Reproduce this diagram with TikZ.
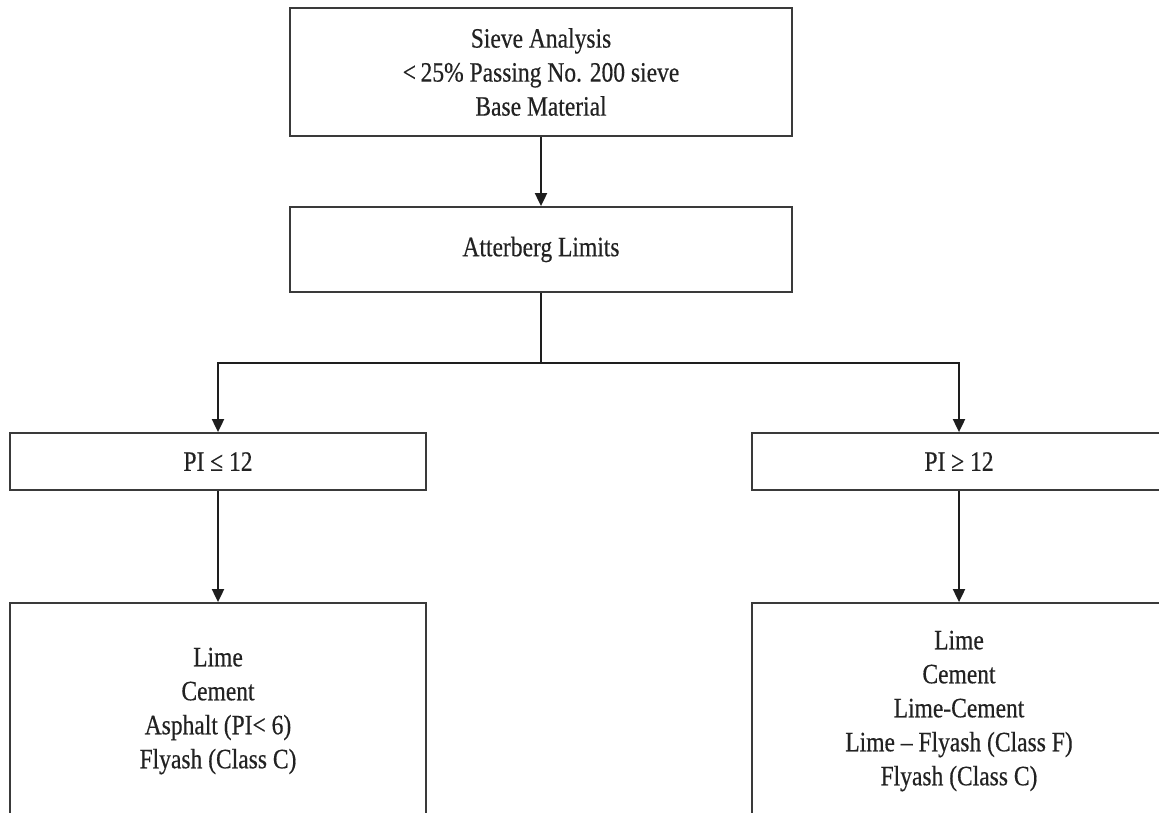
\documentclass[tikz,border=0pt]{standalone}
\usepackage{fontspec}
\setmainfont[FakeStretch=0.84,FakeBold=0.4]{Liberation Serif}
\usetikzlibrary{arrows.meta}
\definecolor{ink}{HTML}{222222}
\definecolor{edge}{HTML}{3A3A3A}
\definecolor{wire}{HTML}{1E1E1E}
\begin{document}
\begin{tikzpicture}[x=1pt,y=-1pt,
  box/.style={draw=edge,line width=1.8pt,fill=white,align=center,text=ink,
    font=\fontsize{28}{34}\selectfont,inner sep=0pt},
  link/.style={draw=wire,line width=1.9pt},
  arr/.style={link,-{Triangle[width=12pt,length=13pt]}}]
\clip (0,0) rectangle (1159,812);
\fill[white] (0,0) rectangle (1159,812);

% boxes
\node[box,minimum width=502pt,minimum height=128pt] (sieve) at (541,72)
  {Sieve Analysis\\ <\,25\% Passing No. 200 sieve\\ Base Material};
\node[box,minimum width=502pt,minimum height=85pt] (atb) at (541,249.5)
  {Atterberg Limits};
\node[box,minimum width=416pt,minimum height=57pt] (pil) at (218,461.5)
  {PI ≤ 12};
\node[box,minimum width=414pt,minimum height=57pt] (pig) at (959,461.5)
  {PI ≥ 12};
\node[box,minimum width=416pt,minimum height=216pt] (resl) at (218,711)
  {Lime\\ Cement\\ Asphalt (PI< 6)\\ Flyash (Class C)};
\node[box,minimum width=414pt,minimum height=216pt] (resg) at (959,711)
  {Lime\\ Cement\\ Lime-Cement\\ Lime – Flyash (Class F)\\ Flyash (Class C)};

% connectors
\coordinate (split) at (541,363);
\draw[arr] (sieve.south) -- (atb.north);
\draw[link] (atb.south) -- (split);
\draw[arr] (split) -| (pil.north);
\draw[arr] (split) -| (pig.north);
\draw[arr] (pil.south) -- (resl.north);
\draw[arr] (pig.south) -- (resg.north);
\end{tikzpicture}
\end{document}
